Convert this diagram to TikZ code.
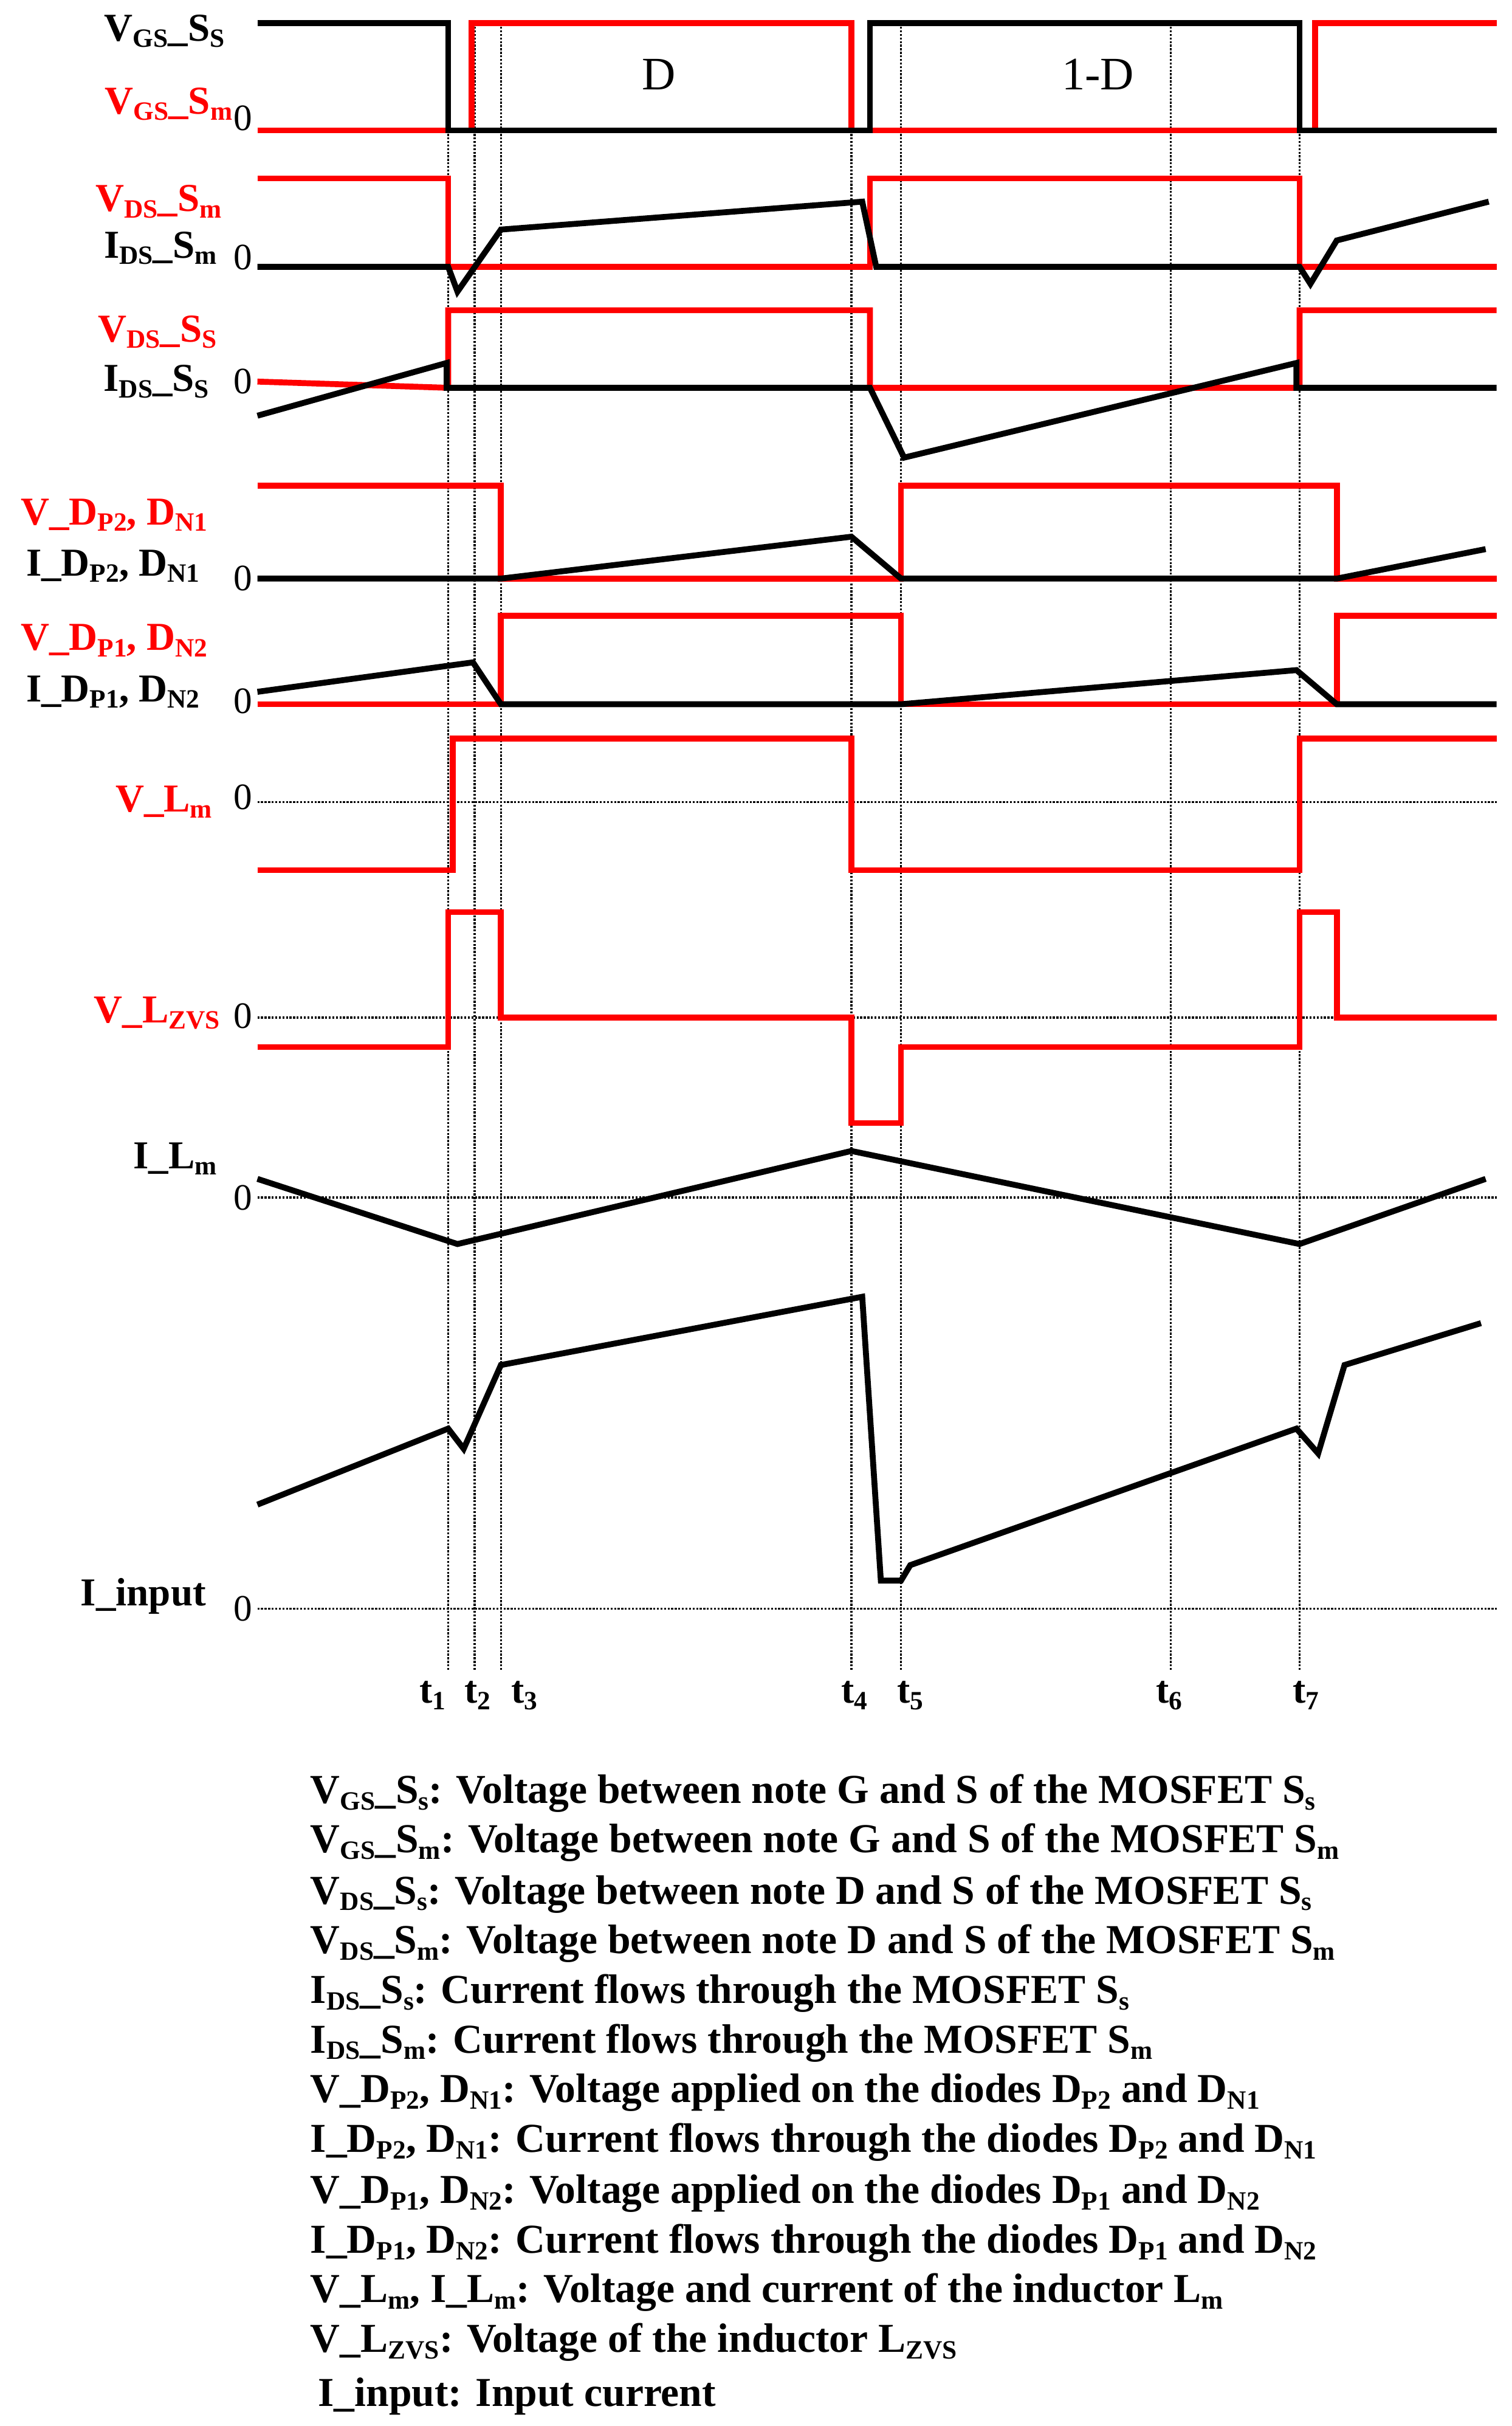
\documentclass[tikz,border=0pt]{standalone}
\usepackage{fontspec}
\setmainfont{Liberation Serif}
\newcommand{\ssb}[1]{\raisebox{-0.35ex}{\fontsize{17}{17}\selectfont #1}}
\begin{document}
\begin{tikzpicture}[x=1pt,y=-1pt,
  blk/.style={line width=3.8pt,black,line join=miter},
  rd/.style={line width=3.8pt,red,line join=miter},
  dot/.style={densely dotted,line width=1.3pt},
  lab/.style={font=\fontsize{25.5}{27}\bfseries\selectfont,anchor=east,inner sep=0pt},
  zer/.style={font=\fontsize{24}{26}\selectfont,anchor=east,inner sep=0pt},
  leg/.style={font=\fontsize{26.5}{28}\bfseries\selectfont,anchor=west,inner sep=0pt}]
\useasboundingbox[fill=white] (0,0) rectangle (975,1564);
\foreach \x in {289,306,323,549,581,755,838} \draw[dot] (\x,15) -- (\x,1077);
\foreach \y in {517,656,772,1037} \draw[dot] (166,\y) -- (965,\y);
% row 1
\draw[rd] (166,84) -- (304,84) -- (304,15) -- (549,15) -- (549,84) -- (848,84) -- (848,15) -- (965,15);
\draw[blk] (166,15) -- (289,15) -- (289,84) -- (561,84) -- (561,15) -- (838,15) -- (838,84) -- (965,84);
\node[font=\fontsize{30}{30}\selectfont] at (425,48) {D};
\node[font=\fontsize{30}{30}\selectfont] at (708,48) {1-D};
% row 2
\draw[rd] (166,115) -- (289,115) -- (289,172) -- (561,172) -- (561,115) -- (838,115) -- (838,172) -- (965,172);
\draw[blk] (166,172) -- (289,172) -- (295,188) -- (323,148) -- (556,130) -- (565,172) -- (838,172) -- (845,183) -- (862,155) -- (960,130);
% row 3
\draw[rd] (166,246) -- (289,250) -- (289,200) -- (561,200) -- (561,250) -- (838,250) -- (838,200) -- (965,200);
\draw[blk] (166,268) -- (288,234) -- (288,250) -- (561,250) -- (583,295) -- (836,234) -- (836,250) -- (965,250);
% row 4
\draw[rd] (166,313) -- (323,313) -- (323,373) -- (581,373) -- (581,313) -- (862,313) -- (862,373) -- (965,373);
\draw[blk] (166,373) -- (323,373) -- (549,346) -- (581,373) -- (862,373) -- (958,354);
% row 5
\draw[rd] (166,454) -- (323,454) -- (323,397) -- (581,397) -- (581,454) -- (862,454) -- (862,397) -- (965,397);
\draw[blk] (166,446) -- (305,427) -- (323,454) -- (581,454) -- (836,432) -- (862,454) -- (965,454);
% row 6
\draw[rd] (166,561) -- (292,561) -- (292,476) -- (549,476) -- (549,561) -- (838,561) -- (838,476) -- (965,476);
% row 7
\draw[rd] (166,675) -- (289,675) -- (289,588) -- (323,588) -- (323,656) -- (549,656) -- (549,724) -- (581,724) -- (581,675) -- (838,675) -- (838,588) -- (862,588) -- (862,656) -- (965,656);
% row 8
\draw[blk] (166,760) -- (295,802) -- (549,742) -- (838,802) -- (958,760);
% row 9
\draw[blk] (166,970) -- (289,921) -- (299,934) -- (323,880) -- (556,836) -- (568,1019) -- (581,1019) -- (587,1009) -- (836,921) -- (850,937) -- (867,880) -- (955,853);
% left labels
\node[lab] at (145,20) {V\ssb{GS}\_S\ssb{S}};
\node[lab,red] at (150,67) {V\ssb{GS}\_S\ssb{m}};
\node[lab,red] at (143,130) {V\ssb{DS}\_S\ssb{m}};
\node[lab] at (140,160) {I\ssb{DS}\_S\ssb{m}};
\node[lab,red] at (140,214) {V\ssb{DS}\_S\ssb{S}};
\node[lab] at (135,246) {I\ssb{DS}\_S\ssb{S}};
\node[lab,red] at (134,332) {V\_D\ssb{P2}, D\ssb{N1}};
\node[lab] at (129,365) {I\_D\ssb{P2}, D\ssb{N1}};
\node[lab,red] at (134,413) {V\_D\ssb{P1}, D\ssb{N2}};
\node[lab] at (129,446) {I\_D\ssb{P1}, D\ssb{N2}};
\node[lab,red] at (137,517) {V\_L\ssb{m}};
\node[lab,red] at (142,653) {V\_L\ssb{ZVS}};
\node[lab] at (140,747) {I\_L\ssb{m}};
\node[lab] at (133,1029) {I\_input};
\foreach \y in {76,166,246,373,452,514,655,772,1037} \node[zer] at (163,\y) {0};
\foreach \x/\n in {279/1,308/2,338/3,551/4,587/5,754/6,842/7}
  \node[font=\fontsize{25}{26}\bfseries\selectfont] at (\x,1093) {t\ssb{\n}};
\node[leg] at (200,1156) {V\ssb{GS}\_S\ssb{s}: Voltage between note G and S of the MOSFET S\ssb{s}};
\node[leg] at (200,1188) {V\ssb{GS}\_S\ssb{m}: Voltage between note G and S of the MOSFET S\ssb{m}};
\node[leg] at (200,1221) {V\ssb{DS}\_S\ssb{s}: Voltage between note D and S of the MOSFET S\ssb{s}};
\node[leg] at (200,1253) {V\ssb{DS}\_S\ssb{m}: Voltage between note D and S of the MOSFET S\ssb{m}};
\node[leg] at (200,1285) {I\ssb{DS}\_S\ssb{s}: Current flows through the MOSFET S\ssb{s}};
\node[leg] at (200,1317) {I\ssb{DS}\_S\ssb{m}: Current flows through the MOSFET S\ssb{m}};
\node[leg] at (200,1349) {V\_D\ssb{P2}, D\ssb{N1}: Voltage applied on the diodes D\ssb{P2} and D\ssb{N1}};
\node[leg] at (200,1381) {I\_D\ssb{P2}, D\ssb{N1}: Current flows through the diodes D\ssb{P2} and D\ssb{N1}};
\node[leg] at (200,1414) {V\_D\ssb{P1}, D\ssb{N2}: Voltage applied on the diodes D\ssb{P1} and D\ssb{N2}};
\node[leg] at (200,1446) {I\_D\ssb{P1}, D\ssb{N2}: Current flows through the diodes D\ssb{P1} and D\ssb{N2}};
\node[leg] at (200,1478) {V\_L\ssb{m}, I\_L\ssb{m}: Voltage and current of the inductor L\ssb{m}};
\node[leg] at (200,1510) {V\_L\ssb{ZVS}: Voltage of the inductor L\ssb{ZVS}};
\node[leg] at (205,1545) {I\_input: Input current};
\end{tikzpicture}
\end{document}
